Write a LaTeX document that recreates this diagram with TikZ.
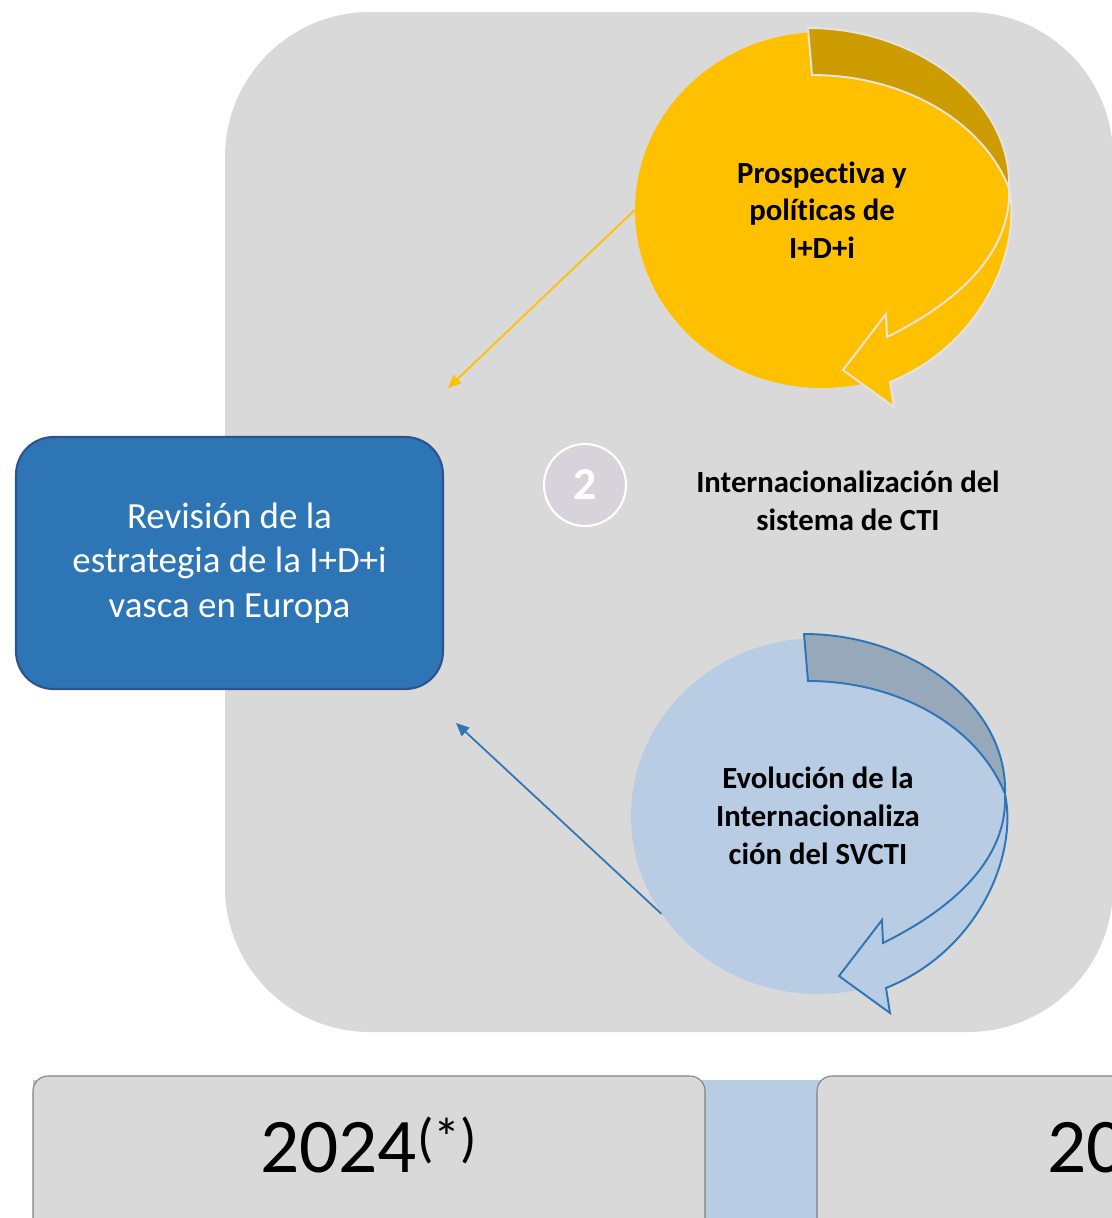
\documentclass[tikz,border=0pt]{standalone}
\usepackage{fontspec}
\setmainfont{Carlito}[Ligatures=NoCommon]
\usetikzlibrary{arrows.meta,shapes.geometric,positioning}

\definecolor{panelgray}{HTML}{D9D9D9}
\definecolor{gold}{HTML}{FFC000}
\definecolor{golddark}{HTML}{CC9C00}
\definecolor{paleblue}{HTML}{B8CCE4}
\definecolor{slateblue}{HTML}{97A8BA}
\definecolor{linkblue}{HTML}{2E75B6}
\definecolor{navyedge}{HTML}{2F528F}
\definecolor{lilac}{HTML}{D8D3DA}
\definecolor{ringedge}{HTML}{E4E4E4}

\begin{document}
\begin{tikzpicture}[x=0.02cm, y=-0.02cm,
    ring/.style={ellipse, minimum width=7.48cm, minimum height=7.12cm, inner sep=0pt,
        align=center, font=\bfseries\fontsize{17.5}{21.5}\selectfont},
    yearbox/.style={draw=gray, fill=panelgray, rounded corners=0.3cm, line width=0.6pt},
    yeartext/.style={anchor=base, inner sep=0pt, font=\fontsize{44}{50}\selectfont},
    feed/.style={-{Triangle[length=7.5pt,width=6.5pt]}, line width=1pt}]
    \useasboundingbox (0,0) rectangle (1112,1218);
    \clip (0,0) rectangle (1112,1218);

    % Background panel
    \fill[panelgray, rounded corners=2.9cm] (225,12) rectangle (1113,1032);

    % Time line at the bottom
    \fill[paleblue] (33,1080) rectangle (1112,1218);
    \draw[yearbox] (33,1076) rectangle (705,1240);
    \draw[yearbox] (817,1076) rectangle (1200,1240);
    \node[yeartext] (yearA) at (369,1172) {2024\textsuperscript{(*)}};
    \node[yeartext, anchor=base west] (yearB) at (1047,1172) {20};

    % Result box
    \node[draw=navyedge, fill=linkblue, line width=1.2pt, rounded corners=0.75cm,
        minimum width=8.54cm, minimum height=5.04cm, text=white, align=center,
        font=\fontsize{21}{25.5}\selectfont] (review) at (229.5,563)
        {Revisión de la\\estrategia de la I+D+i\\vasca en Europa};

    % Step number and title
    \node[circle, fill=lilac, draw=white, line width=1.2pt, minimum size=1.64cm,
        text=white, font=\bfseries\fontsize{26}{30}\selectfont] (stepno) at (585,485) {2};
    \node[align=center, font=\bfseries\fontsize{17.5}{21.5}\selectfont] (title) at (848,501)
        {Internacionalización del\\sistema de CTI};

    % Cycles
    \node[ring, fill=gold] (prosp) at (822,210) {Prospectiva y\\políticas de\\I+D+i};
    \node[ring, fill=paleblue] (evol) at (818,816) {Evolución de la\\Internacionaliza\\ción del SVCTI};

    \foreach \c/\body/\shade/\edge in {prosp/gold/golddark/ringedge, evol/paleblue/slateblue/linkblue} {
        \begin{scope}[shift={(\c.center)}]
            \filldraw[fill=\shade, draw=\edge, line width=1.1pt]
                (-14,-182) .. controls (95,-182) and (190,-110) .. (187,-22)
                .. controls (160,-90) and (80,-135) .. (-10,-135) -- cycle;
            \filldraw[fill=\body, draw=\edge, line width=1.1pt]
                (187,-22) .. controls (200,40) and (160,135) .. (68,172)
                -- (72,197) -- (21,160) -- (64,104) -- (65,127)
                .. controls (140,90) and (190,40) .. (187,-22) -- cycle;
        \end{scope}
    }

    % Feedback arrows
    \coordinate (prospend) at (448,388);
    \coordinate (evolend) at (456,723);
    \draw[feed, gold] (prosp.west) -- (prospend);
    \draw[feed, linkblue] (evol.212) -- (evolend);
\end{tikzpicture}
\end{document}
